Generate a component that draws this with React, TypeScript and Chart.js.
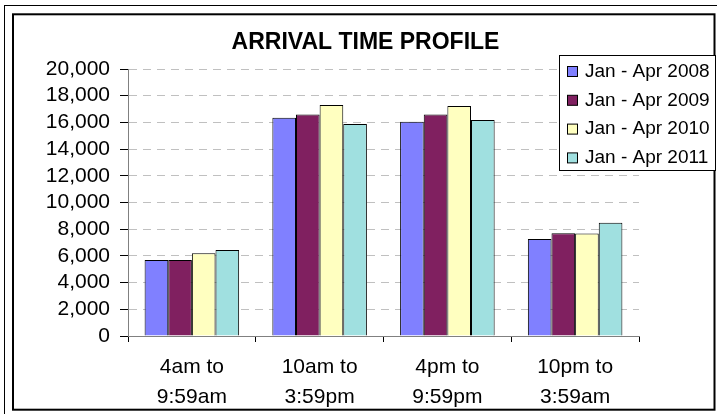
import React, { useEffect, useRef } from "react";
import { Chart, registerables } from "chart.js";

Chart.register(...registerables);

const categories: string[][] = [
  ["4am to", "9:59am"],
  ["10am to", "3:59pm"],
  ["4pm to", "9:59pm"],
  ["10pm to", "3:59am"],
];
const seriesLabels = ["Jan - Apr 2008", "Jan - Apr 2009", "Jan - Apr 2010", "Jan - Apr 2011"];
const values2008 = [5700, 16350, 16050, 7270];
const values2009 = [5700, 16600, 16600, 7690];
const values2010 = [6200, 17300, 17230, 7670];
const values2011 = [6450, 15880, 16180, 8490];
const seriesColors = ["#8080FF", "#802060", "#FFFFC0", "#A0E0E0"];
const titleText = "ARRIVAL TIME PROFILE";
const yMin = 0;
const yMax = 20000;
const yStep = 2000;

const FONT = "'Liberation Sans', Arial, Helvetica, sans-serif";

const decorPlugin = {
  id: "decor",
  beforeDraw(chart: any) {
    const ctx = chart.ctx;
    ctx.save();
    ctx.fillStyle = "#ffffff";
    ctx.fillRect(0, 0, chart.width, chart.height);
    ctx.restore();
  },
  afterDraw(chart: any) {
    const ctx = chart.ctx;
    ctx.save();
    // outer thin border
    ctx.strokeStyle = "#000";
    ctx.lineWidth = 1;
    ctx.strokeRect(4.5, 5.5, chart.width + 10, chart.height + 10);
    // inner thick border
    ctx.lineWidth = 2;
    ctx.strokeRect(13, 14.3, 701.5, 395.4);

    // title
    ctx.fillStyle = "#000";
    ctx.font = `bold 23px ${FONT}`;
    ctx.textAlign = "center";
    ctx.textBaseline = "middle";
    ctx.fillText(titleText, 365.5, 43);

    // legend
    const lx = 559.5, ly = 55.5, lw = 156, lh = 115;
    ctx.fillStyle = "#fff";
    ctx.fillRect(lx, ly, lw, lh);
    ctx.strokeStyle = "#000";
    ctx.lineWidth = 1;
    ctx.strokeRect(lx, ly, lw, lh);
    ctx.font = `19px ${FONT}`;
    ctx.textAlign = "left";
    ctx.textBaseline = "middle";
    chart.data.datasets.forEach((ds: any, i: number) => {
      const cy = 71.5 + i * 28.8;
      ctx.fillStyle = ds.backgroundColor;
      ctx.fillRect(567.5, cy - 5, 10, 10);
      ctx.strokeStyle = "#000";
      ctx.strokeRect(567.5, cy - 5, 10, 10);
      ctx.fillStyle = "#000";
      ctx.fillText(ds.label, 585, cy);
    });
    ctx.restore();
  },
};

export default function App() {
  const ref = useRef<HTMLCanvasElement>(null);
  useEffect(() => {
    if (!ref.current) return;
    const allSeries = [values2008, values2009, values2010, values2011];
    const chart = new Chart(ref.current, {
      type: "bar",
      data: {
        labels: categories,
        datasets: allSeries.map((vals, i) => ({
          label: seriesLabels[i],
          data: vals,
          backgroundColor: seriesColors[i],
          borderColor: "#000",
          borderWidth: 1,
          categoryPercentage: 0.74,
          barPercentage: 1,
        })),
      },
      options: {
        responsive: false,
        animation: false,
        layout: { padding: { left: 0, top: 69, right: 78, bottom: 0 } },
        plugins: {
          legend: { display: false },
          title: { display: false },
          tooltip: { enabled: false },
        },
        scales: {
          x: {
            afterFit: (s: any) => { s.height = 78; },
            grid: {
              display: true,
              drawOnChartArea: false,
              offset: true,
              tickLength: 6,
              tickColor: "#000",
            },
            border: { display: true, color: "#808080", width: 1 },
            ticks: {
              color: "#000",
              padding: 11,
              autoSkip: false,
              maxRotation: 0,
              font: { family: FONT, size: 21, lineHeight: 1.4 },
            },
          },
          y: {
            min: yMin,
            max: yMax,
            afterFit: (s: any) => { s.width = 128; },
            grid: {
              color: "#C0C0C0",
              lineWidth: 1,
              tickLength: 8,
              tickColor: "#000",
              tickBorderDash: [],
            },
            border: { display: true, color: "#808080", width: 1, dash: [8, 6] },
            ticks: {
              stepSize: yStep,
              autoSkip: false,
              color: "#000",
              padding: 10,
              font: { family: FONT, size: 21 },
              callback: (v: any) => Number(v).toLocaleString("en-US"),
            },
          },
        },
      },
      plugins: [decorPlugin],
    });
    return () => chart.destroy();
  }, []);
  return (
    <div style={{ position: "absolute", left: 0, top: 0, width: 717, height: 414 }}>
      <canvas ref={ref} width={717} height={414} style={{ display: "block" }} />
    </div>
  );
}
